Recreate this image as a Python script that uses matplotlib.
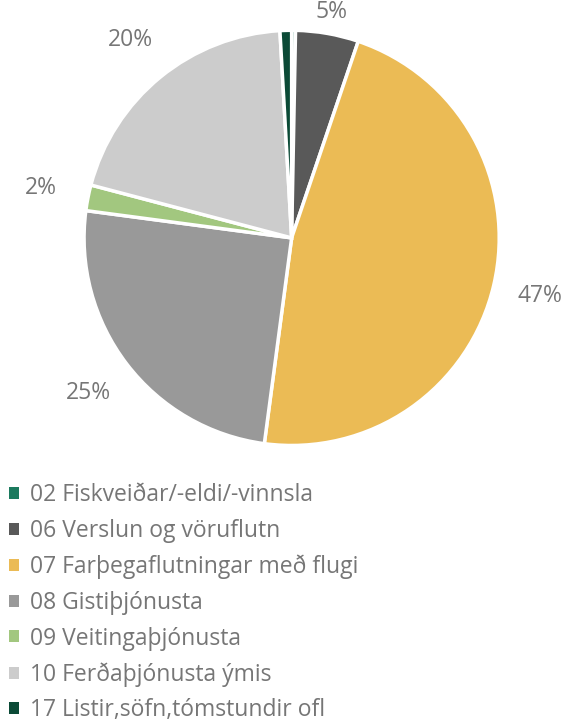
import matplotlib.pyplot as plt
from matplotlib.patches import Patch

plt.rcParams['font.family'] = ['Open Sans', 'DejaVu Sans']

categories = ['02 Fiskveiðar/-eldi/-vinnsla', '06 Verslun og vöruflutn',
              '07 Farþegaflutningar með flugi', '08 Gistiþjónusta',
              '09 Veitingaþjónusta', '10 Ferðaþjónusta ýmis',
              '17 Listir,söfn,tómstundir ofl']
shares = [0.3, 4.9, 46.9, 25.0, 2.0, 20.0, 0.9]
colors = ['#1B7A5E', '#595959', '#EBBB55', '#999999', '#A2C77F', '#CCCCCC', '#0B4A36']
text_col = '#767676'

fig = plt.figure(figsize=(5.63, 7.22), dpi=100)
ax = fig.add_axes([0.149, 0.383, 0.738, 0.575])

def pct(p):
    return '%.0f%%' % p if p >= 1.5 else ''

wedges, texts, autotexts = ax.pie(shares, colors=colors, startangle=90, counterclock=False,
                                  autopct=pct, pctdistance=1.23, radius=1,
                                  wedgeprops=dict(edgecolor='white', linewidth=2.5),
                                  textprops=dict(color=text_col, fontsize=16.5))
# the small 5% label sits closer to the rim
x5, y5 = autotexts[1].get_position()
autotexts[1].set_position((x5 * 0.9, y5 * 0.9))
ax.set_xlim(-1, 1)
ax.set_ylim(-1, 1)
ax.set_aspect('equal')

handles = [Patch(facecolor=c, edgecolor='none') for c in colors]
fig.legend(handles, categories, loc='upper left', bbox_to_anchor=(-0.012, 0.353),
           frameon=False, fontsize=16.5, labelcolor=text_col,
           handlelength=0.42, handleheight=0.42, handletextpad=0.5,
           labelspacing=0.51, borderaxespad=0.3)

fig.savefig('out.png', dpi=100)
